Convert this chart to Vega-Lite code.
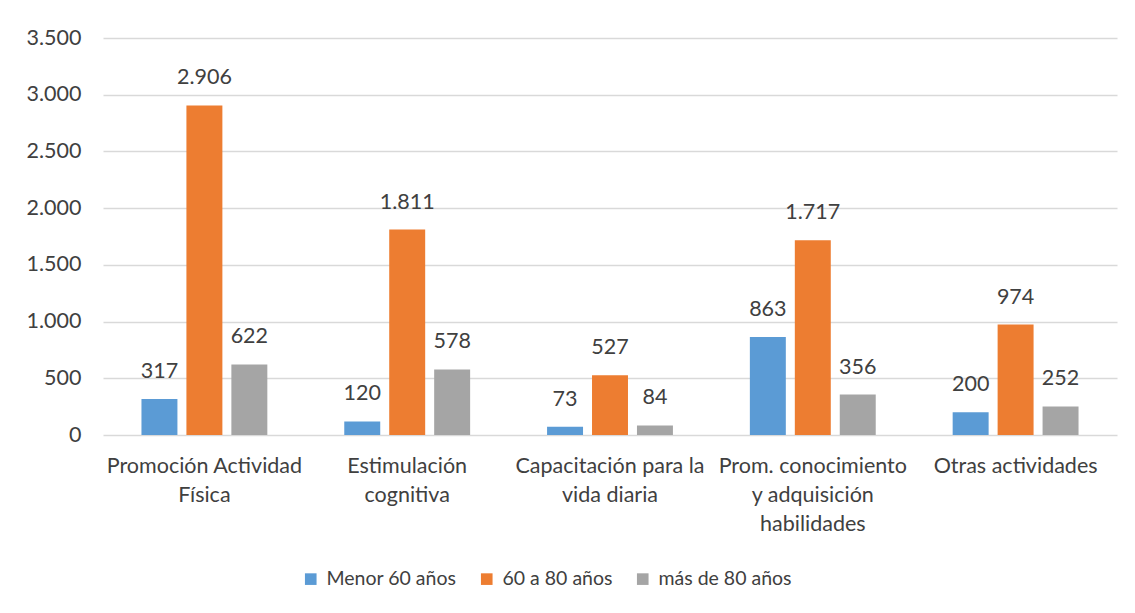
{
  "$schema": "https://vega.github.io/schema/vega-lite/v6.json",
  "width": 1014,
  "height": 397,
  "padding": {"left": 26, "top": 27, "right": 19, "bottom": 5},
  "background": "white",
  "config": {
    "locale": {"number": {"decimal": ",", "thousands": ".", "grouping": [3], "currency": ["", " €"]}},
    "font": "Lato",
    "view": {"stroke": null},
    "axis": {"labelFont": "Lato", "labelColor": "#404040", "labelFontSize": 21.5, "titleFont": "Lato"},
    "legend": {"labelFont": "Lato"}
  },
  "data": {
    "values": [
      {"actividad": "Promoción Actividad|Física", "grupo": "Menor 60 años", "valor": 317},
      {"actividad": "Promoción Actividad|Física", "grupo": "60 a 80 años", "valor": 2906},
      {"actividad": "Promoción Actividad|Física", "grupo": "más de 80 años", "valor": 622},
      {"actividad": "Estimulación|cognitiva", "grupo": "Menor 60 años", "valor": 120},
      {"actividad": "Estimulación|cognitiva", "grupo": "60 a 80 años", "valor": 1811},
      {"actividad": "Estimulación|cognitiva", "grupo": "más de 80 años", "valor": 578},
      {"actividad": "Capacitación para la|vida diaria", "grupo": "Menor 60 años", "valor": 73},
      {"actividad": "Capacitación para la|vida diaria", "grupo": "60 a 80 años", "valor": 527},
      {"actividad": "Capacitación para la|vida diaria", "grupo": "más de 80 años", "valor": 84},
      {"actividad": "Prom. conocimiento|y adquisición|habilidades", "grupo": "Menor 60 años", "valor": 863},
      {"actividad": "Prom. conocimiento|y adquisición|habilidades", "grupo": "60 a 80 años", "valor": 1717},
      {"actividad": "Prom. conocimiento|y adquisición|habilidades", "grupo": "más de 80 años", "valor": 356},
      {"actividad": "Otras actividades", "grupo": "Menor 60 años", "valor": 200},
      {"actividad": "Otras actividades", "grupo": "60 a 80 años", "valor": 974},
      {"actividad": "Otras actividades", "grupo": "más de 80 años", "valor": 252}
    ]
  },
  "encoding": {
    "x": {
      "field": "actividad", "type": "nominal", "sort": null,
      "scale": {"paddingInner": 0.335, "paddingOuter": 0.1675},
      "axis": {"title": null, "labelAngle": 0, "labelExpr": "split(datum.label, '|')", "labelLineHeight": 29, "labelPadding": 20, "labelLimit": 400, "labelOverlap": false, "ticks": false, "domain": false, "labelBaseline": "top"}
    },
    "xOffset": {"field": "grupo", "type": "nominal", "sort": ["Menor 60 años", "60 a 80 años", "más de 80 años"], "scale": {"paddingInner": 0.2, "paddingOuter": 0.1}},
    "y": {
      "field": "valor", "type": "quantitative",
      "scale": {"domain": [0, 3500]},
      "axis": {"title": null, "values": [0, 500, 1000, 1500, 2000, 2500, 3000, 3500], "format": ",d", "ticks": false, "domain": false, "gridColor": "#D9D9D9", "gridWidth": 1.3, "labelPadding": 22}
    }
  },
  "layer": [
    {
      "mark": {"type": "bar"},
      "encoding": {
        "color": {
          "field": "grupo", "type": "nominal", "sort": ["Menor 60 años", "60 a 80 años", "más de 80 años"],
          "scale": {"domain": ["Menor 60 años", "60 a 80 años", "más de 80 años"], "range": ["#5B9BD5", "#ED7D31", "#A5A5A5"]},
          "legend": {"title": null, "orient": "none", "legendX": 198, "legendY": 531, "direction": "horizontal", "symbolType": "square", "symbolSize": 135, "symbolStrokeWidth": 0, "labelFontSize": 19.5, "labelColor": "#404040", "columnPadding": 20, "labelOffset": 6}
        }
      }
    },
    {
      "mark": {"type": "text", "baseline": "bottom", "dy": -16, "fontSize": 21.5, "color": "#404040", "font": "Lato"},
      "encoding": {"text": {"field": "valor", "type": "quantitative", "format": ",d"}}
    }
  ]
}
